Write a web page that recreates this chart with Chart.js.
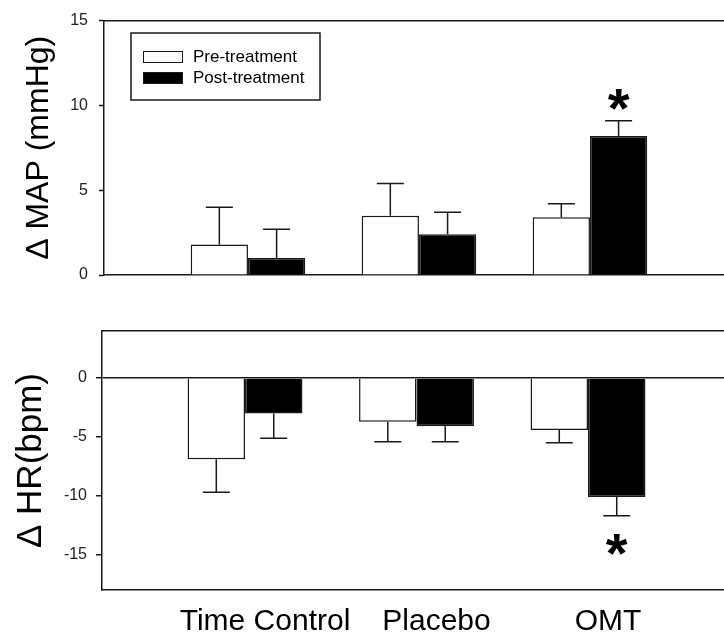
<!DOCTYPE html>
<html>
<head>
<meta charset="utf-8">
<script src="https://cdn.jsdelivr.net/npm/chart.js@4.4.1/dist/chart.umd.min.js"></script>
<style>
  html, body { margin: 0; padding: 0; background: #fff; }
  canvas { display: block; }
</style>
</head>
<body>
<canvas id="mapChart" width="724" height="300"></canvas>
<canvas id="hrChart" width="724" height="337"></canvas>
<script>
"use strict";

const groups = ["Time Control", "Placebo", "OMT"];
const seriesNames = ["Pre-treatment", "Post-treatment"];

// change in MAP (mmHg): means and error bars
const mapPre = [1.8, 3.5, 3.4];
const mapPreErr = [2.2, 1.9, 0.8];
const mapPost = [1.0, 2.4, 8.2];
const mapPostErr = [1.7, 1.3, 0.9];
const mapTicks = [0, 5, 10, 15];

// change in HR (bpm)
const hrPre = [-6.9, -3.7, -4.4];
const hrPreErr = [2.8, 1.7, 1.1];
const hrPost = [-3.0, -4.1, -10.1];
const hrPostErr = [2.1, 1.3, 1.6];
const hrTicks = [-15, -10, -5, 0];

// * = post-treatment significantly different
const postSig = [false, false, true];

const FONT = '"Liberation Sans", Arial, Helvetica, sans-serif';
const INK = "#1a1a1a";

function points(vals) {
  return vals.map((v, i) => ({ x: i + 1, y: v }));
}

function makeDatasets(pre, post) {
  return [pre, post].map((vals, d) => ({
    label: seriesNames[d],
    data: points(vals),
    backgroundColor: d === 0 ? "#ffffff" : "#000000",
    borderColor: INK,
    borderWidth: 1.5,
    categoryPercentage: 0.67,
    barPercentage: 1.0
  }));
}

// error bars (away from zero) + significance stars
function errorBars(errs, starGap) {
  return {
    id: "errorBars",
    afterDatasetsDraw(chart) {
      const ctx = chart.ctx, y = chart.scales.y;
      ctx.save();
      ctx.strokeStyle = INK;
      ctx.lineWidth = 1.5;
      chart.data.datasets.forEach((ds, d) => {
        chart.getDatasetMeta(d).data.forEach((bar, i) => {
          const v = ds.data[i].y;
          const s = Math.sign(v);
          const end = y.getPixelForValue(v + s * errs[d][i]);
          ctx.beginPath();
          ctx.moveTo(bar.x, bar.y);
          ctx.lineTo(bar.x, end);
          ctx.moveTo(bar.x - 13.5, end);
          ctx.lineTo(bar.x + 13.5, end);
          ctx.stroke();
          if (d === 1 && postSig[i]) {
            ctx.font = "bold 56px " + FONT;
            ctx.fillStyle = "#000";
            ctx.textAlign = "center";
            ctx.textBaseline = "alphabetic";
            const m = ctx.measureText("*");
            const cy = end - s * starGap;
            ctx.fillText("*", bar.x, cy - (m.actualBoundingBoxDescent - m.actualBoundingBoxAscent) / 2);
          }
        });
      });
      ctx.restore();
    }
  };
}

const boxLegend = {
  id: "boxLegend",
  afterDraw(chart) {
    const ctx = chart.ctx;
    ctx.save();
    ctx.strokeStyle = INK;
    ctx.lineWidth = 1.5;
    ctx.strokeRect(131, 33, 189, 67);
    ctx.font = "17px " + FONT;
    ctx.textBaseline = "middle";
    ctx.textAlign = "left";
    chart.data.datasets.forEach((ds, d) => {
      const cy = 57 + d * 21;
      ctx.fillStyle = ds.backgroundColor;
      ctx.fillRect(143, cy - 6, 40, 12);
      ctx.lineWidth = 1;
      ctx.strokeRect(143.5, cy - 5.5, 39, 11);
      ctx.fillStyle = "#000";
      ctx.fillText(ds.label, 193, cy);
    });
    ctx.restore();
  }
};

function frameAxis(extra) {
  return Object.assign({
    type: "linear",
    offset: false,
    afterBuildTicks: s => { s.ticks = groups.map((g, i) => ({ value: i + 1 })); },
    grid: { drawOnChartArea: false, drawTicks: false, offset: false },
    border: { color: INK, width: 1.5 },
    ticks: { display: false },
    afterFit: s => { s.height = 0; }
  }, extra);
}

const baseOptions = {
  responsive: false,
  animation: false,
  devicePixelRatio: 1,
  plugins: { legend: { display: false }, tooltip: { enabled: false } }
};

new Chart(document.getElementById("mapChart"), {
  type: "bar",
  data: { datasets: makeDatasets(mapPre, mapPost) },
  options: Object.assign({}, baseOptions, {
    layout: { padding: { top: 16, bottom: 25, left: 0, right: 0 } },
    scales: {
      x: frameAxis({ position: "bottom", min: 0.158, max: 3.784 }),
      x2: frameAxis({ position: "top", min: 0.158, max: 3.784 }),
      y: {
        min: 0, max: 15,
        afterBuildTicks: s => { s.ticks = mapTicks.map(v => ({ value: v })); },
        afterFit: s => { s.width = 104; },
        grid: { drawOnChartArea: false, tickLength: 5, tickColor: INK, tickWidth: 1.5 },
        border: { color: INK, width: 1.5 },
        ticks: { color: "#222", font: { family: FONT, size: 16 }, padding: 11 },
        title: {
          display: true, text: "\u0394 MAP (mmHg)", color: "#000",
          font: { family: FONT, size: 32 }, padding: { top: 20, bottom: 0 }
        }
      }
    }
  }),
  plugins: [errorBars([mapPreErr, mapPostErr], 21), boxLegend]
});

new Chart(document.getElementById("hrChart"), {
  type: "bar",
  data: { datasets: makeDatasets(hrPre, hrPost) },
  options: Object.assign({}, baseOptions, {
    layout: { padding: { top: 31, bottom: 0, left: 0, right: 0 } },
    scales: {
      x: frameAxis({
        position: "bottom", min: 0.166, max: 3.793,
        ticks: {
          display: true, color: "#000", font: { family: FONT, size: 30 },
          padding: 14, labelOffset: 20, maxRotation: 0, autoSkip: false,
          callback: v => groups[v - 1]
        },
        afterFit: s => { s.height = 47; }
      }),
      x2: frameAxis({ position: "top", min: 0.166, max: 3.793 }),
      y: {
        min: -18, max: 4,
        afterBuildTicks: s => { s.ticks = hrTicks.map(v => ({ value: v })); },
        afterFit: s => { s.width = 102; },
        grid: {
          color: c => (c.tick && c.tick.value === 0 ? INK : "rgba(0,0,0,0)"),
          lineWidth: 1.5, tickLength: 6, tickColor: INK, tickWidth: 1.5
        },
        border: { color: INK, width: 1.5 },
        ticks: { color: "#222", font: { family: FONT, size: 16 }, padding: 9 },
        title: {
          display: true, text: "\u0394 HR(bpm)", color: "#000",
          font: { family: FONT, size: 35 }, padding: { top: 10, bottom: 0 }
        }
      }
    }
  }),
  plugins: [errorBars([hrPreErr, hrPostErr], 29)]
});
</script>
</body>
</html>
